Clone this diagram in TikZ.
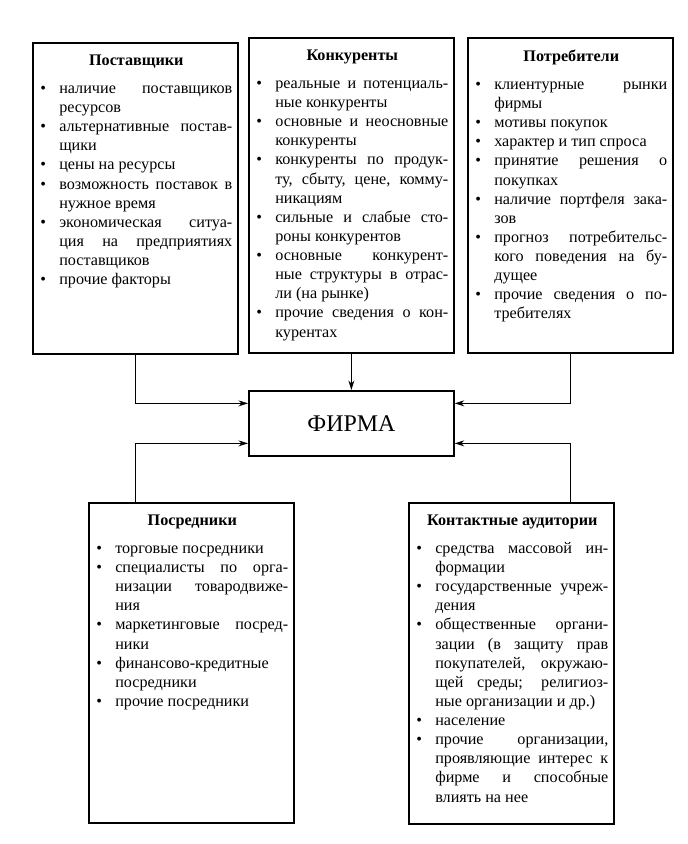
\documentclass[tikz,border=0pt]{standalone}
\usepackage{fontspec}
\setmainfont{Liberation Serif}
\usetikzlibrary{arrows.meta}
\tolerance=10000
\hbadness=10000
\hyphenpenalty=10000
\tikzset{%
		rahmen/.style={draw,line width=1.2pt,minimum width=5.125cm,anchor=north west,inner sep=0pt},
		inhalt/.style={text width=4.8cm,align=justify,anchor=north west,inner sep=0pt,
			font=\fontsize{11.5}{13.6}\selectfont},
		pfeil/.style={draw,line width=.6pt,-{Stealth[length=2.4mm,width=1.5mm]}}
	}
\newcommand{\punkt}{\par\noindent\hangindent=.475cm\hangafter=1\makebox[.475cm][l]{\textbullet}}
\newcommand{\titel}[1]{{\centering\bfseries #1\par}\vspace{6pt}}
\newcommand{\kasten}[4]{
		\node[rahmen,minimum height=#3] (#1) at (#2) {};
		\node[inhalt] (#1-text) at ([shift={(8,13)}]#1.north west) {#4\par};
	}
\begin{document}
\begin{tikzpicture}[x=0.025cm,y=-0.025cm]
      \useasboundingbox (0,0) rectangle (688,844);

      \kasten{post}{32,42}{7.775cm}{\titel{Поставщики}
        \punkt наличие поставщиков\linebreak ресурсов
        \punkt альтернативные постав-\linebreak щики
        \punkt цены на ресурсы
        \punkt возможность поставок в\linebreak нужное время
        \punkt экономическая ситуа-\linebreak ция на предприятиях\linebreak поставщиков
        \punkt прочие факторы}

      \kasten{konk}{248,37}{7.875cm}{\titel{Конкуренты}
        \punkt реальные и потенциаль-\linebreak ные конкуренты
        \punkt основные и неосновные\linebreak конкуренты
        \punkt конкуренты по продук-\linebreak ту, сбыту, цене, комму-\linebreak никациям
        \punkt сильные и слабые сто-\linebreak роны конкурентов
        \punkt основные конкурент-\linebreak ные структуры в отрас-\linebreak ли (на рынке)
        \punkt прочие сведения о кон-\linebreak курентах}

      \kasten{verb}{467,37}{7.875cm}{\titel{Потребители}
        \punkt клиентурные рынки\linebreak фирмы
        \punkt мотивы покупок
        \punkt характер и тип спроса
        \punkt принятие решения о\linebreak покупках
        \punkt наличие портфеля зака-\linebreak зов
        \punkt прогноз потребительс-\linebreak кого поведения на бу-\linebreak дущее
        \punkt прочие сведения о по-\linebreak требителях}

      \node[rahmen,minimum height=1.625cm,font=\fontsize{17}{20}\selectfont] (firma) at (248,390) {ФИРМА};

      \kasten{vermittler}{88,502}{8cm}{\titel{Посредники}
        \punkt торговые посредники
        \punkt специалисты по орга-\linebreak низации товародвиже-\linebreak ния
        \punkt маркетинговые посред-\linebreak ники
        \punkt финансово-кредитные\linebreak посредники
        \punkt прочие посредники}

      \kasten{kontakt}{408,502}{8.025cm}{\titel{Контактные аудитории}
        \punkt средства массовой ин-\linebreak формации
        \punkt государственные учреж-\linebreak дения
        \punkt общественные органи-\linebreak зации (в защиту прав\linebreak покупателей, окружаю-\linebreak щей среды; религиоз-\linebreak ные организации и др.)
        \punkt население
        \punkt прочие организации,\linebreak проявляющие интерес к\linebreak фирме и способные\linebreak влиять на нее}

      \draw[pfeil] (post.south) |- ([yshift=.5cm]firma.west);
      \draw[pfeil] (konk.south) -- (firma.north);
      \draw[pfeil] (verb.south) |- ([yshift=.5cm]firma.east);
      \draw[pfeil] (vermittler.north -| post.south) |- ([yshift=-.5cm]firma.west);
      \draw[pfeil] (kontakt.north -| verb.south) |- ([yshift=-.5cm]firma.east);
\end{tikzpicture}
\end{document}
